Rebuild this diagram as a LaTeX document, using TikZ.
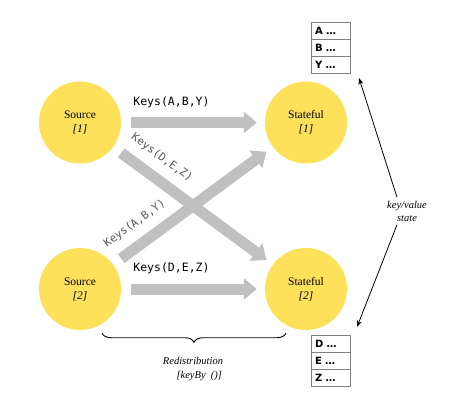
\documentclass[tikz,border=0pt]{standalone}
\usepackage{fontspec}
\setmainfont{Liberation Serif}
\setsansfont{DejaVu Sans}
\setmonofont{DejaVu Sans Mono}
\usepackage{tikz}
\usetikzlibrary{arrows.meta}
\tikzset{>=Stealth}
\usetikzlibrary{positioning,decorations.pathreplacing}
\definecolor{opyellow}{HTML}{FDE15A}
\definecolor{flowgray}{HTML}{C0C0C0}
\definecolor{cellgray}{HTML}{7F7F7F}
\tikzset{
    operator/.style={circle,fill=opyellow,minimum size=82pt,inner sep=0pt,align=center,font=\fontsize{11.5}{14}\selectfont},
    flow/.style={color=flowgray,line width=11pt,-{Triangle[length=13pt,width=21pt]},shorten <=10pt,shorten >=8pt},
    keylabel/.style={font=\ttfamily\fontsize{11.5}{14}\selectfont,text=black},
    slopelabel/.style={font=\ttfamily\fontsize{11}{13}\selectfont,text=black!65,sloped},
    cell/.style={draw=cellgray,line width=1pt,outer sep=0pt,minimum height=17pt,text width=31pt,inner xsep=4pt,inner ysep=0pt,align=left,font=\sffamily\bfseries\fontsize{10}{12}\selectfont}
}
\begin{document}
\begin{tikzpicture}[x=1pt,y=-1pt]
    \useasboundingbox (0,0) rectangle (461,413);
    \node[operator] at (80,122.5) (src1) {Source\\\textit{[1]}};
    \node[operator] at (80,289) (src2) {Source\\\textit{[2]}};
    \node[operator] at (306,122.5) (st1) {Stateful\\\textit{[1]}};
    \node[operator] at (306,289) (st2) {Stateful\\\textit{[2]}};
    \path[flow]
    (src1) edge node[keylabel,above=6pt,pos=0.35] {Keys(A,B,Y)} (st1)
    (src2) edge node[keylabel,above=6pt,pos=0.35] {Keys(D,E,Z)} (st2)
    (src1) edge node[slopelabel,above=6pt,pos=0.23] {Keys(D,E,Z)} (st2)
    (src2) edge node[slopelabel,above=6pt,pos=0.21] {Keys(A,B,Y)} (st1)
    ;
    % state tables
    \node[cell] at (330.5,30.5) (tA) {A \ldots};
    \node[cell,below=0pt of tA] (tB) {B \ldots};
    \node[cell,below=0pt of tB] (tY) {Y \ldots};
    \node[cell] at (330.5,343.5) (tD) {D \ldots};
    \node[cell,below=0pt of tD] (tE) {E \ldots};
    \node[cell,below=0pt of tE] (tZ) {Z \ldots};
    \node[align=center,font=\itshape\fontsize{10.5}{13}\selectfont] at (407,211) (kv) {key/value\\state};
    \draw[->,line width=0.8pt] ([xshift=-10pt]kv.north) -- ([shift={(9pt,-5pt)}]tY.south east);
    \draw[->,line width=0.8pt] ([xshift=-10pt]kv.south) -- ([shift={(7pt,8pt)}]tD.north east);
    % redistribution brace
    \draw[line width=0.9pt,decorate,decoration={brace,mirror,amplitude=9pt}]
        ([shift={(22pt,-3pt)}]src2.south) -- ([shift={(-20pt,-3pt)}]st2.south);
    \node[align=center,font=\itshape\fontsize{10.5}{14}\selectfont] at (193,369) (redist) {Redistribution\\\hspace*{1.2em}[keyBy\enspace()]};
\end{tikzpicture}
\end{document}
